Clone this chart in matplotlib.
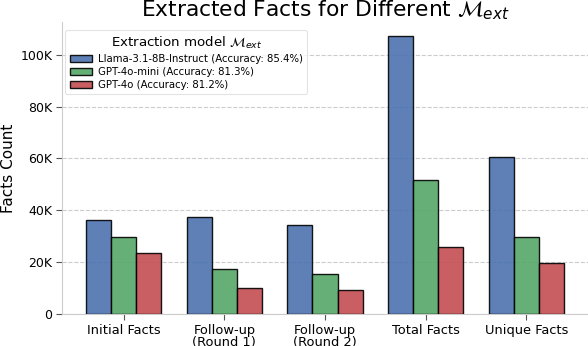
import matplotlib
matplotlib.use("Agg")
import matplotlib.pyplot as plt
import numpy as np
from matplotlib.ticker import FuncFormatter

categories = ["Initial Facts", "Follow-up\n(Round 1)", "Follow-up\n(Round 2)", "Total Facts", "Unique Facts"]
models = ["Llama-3.1-8B-Instruct (Accuracy: 85.4%)",
          "GPT-4o-mini (Accuracy: 81.3%)",
          "GPT-4o (Accuracy: 81.2%)"]
llama = [36200, 37400, 34500, 107300, 60600]
gpt4o_mini = [29800, 17500, 15600, 51700, 29800]
gpt4o = [23400, 10100, 9200, 25900, 19800]
yticks = [0, 20000, 40000, 60000, 80000, 100000]

colors = ["#4c72b0", "#55a868", "#c44e52"]

fig = plt.figure(figsize=(5.88, 3.46), dpi=100)
ax = fig.add_axes([62/588, 32/346, 1 - 62/588, 292/346])

x = np.arange(len(categories))
w = 0.25
for i, (vals, lab) in enumerate(zip([llama, gpt4o_mini, gpt4o], models)):
    ax.bar(x + (i - 1) * w, vals, width=w, color=colors[i], alpha=0.9,
           edgecolor="black", linewidth=1.0, label=lab, zorder=3)

ax.set_xticks(x)
ax.set_xticklabels(categories, fontsize=9.4, linespacing=0.95)
ax.set_yticks(yticks)
ax.yaxis.set_major_formatter(FuncFormatter(lambda v, p: "0" if v == 0 else f"{int(v/1000)}K"))
ax.tick_params(axis="y", labelsize=9, length=4, color="#555555", pad=3)
ax.tick_params(axis="x", length=4, color="#555555", pad=3)
ax.set_ylabel("Facts Count", fontsize=11, labelpad=3)
ax.set_title(r"Extracted Facts for Different $\mathcal{M}_{ext}$", fontsize=15.7, pad=-2.5)

ax.grid(axis="y", linestyle="--", color="#cccccc", linewidth=0.8, zorder=0)
for s in ["top", "right"]:
    ax.spines[s].set_visible(False)
for s in ["left", "bottom"]:
    ax.spines[s].set_color("#cccccc")

leg = ax.legend(loc="upper left", bbox_to_anchor=(-0.004, 0.99), fontsize=7.3,
                title=r"Extraction model $\mathcal{M}_{ext}$", title_fontsize=9.6,
                frameon=True, edgecolor="#dddddd", fancybox=True,
                handlelength=2.2, handleheight=0.7, handletextpad=0.6,
                labelspacing=0.3, borderpad=0.45)
leg.get_frame().set_linewidth(0.8)

fig.savefig("out.png", dpi=100)
